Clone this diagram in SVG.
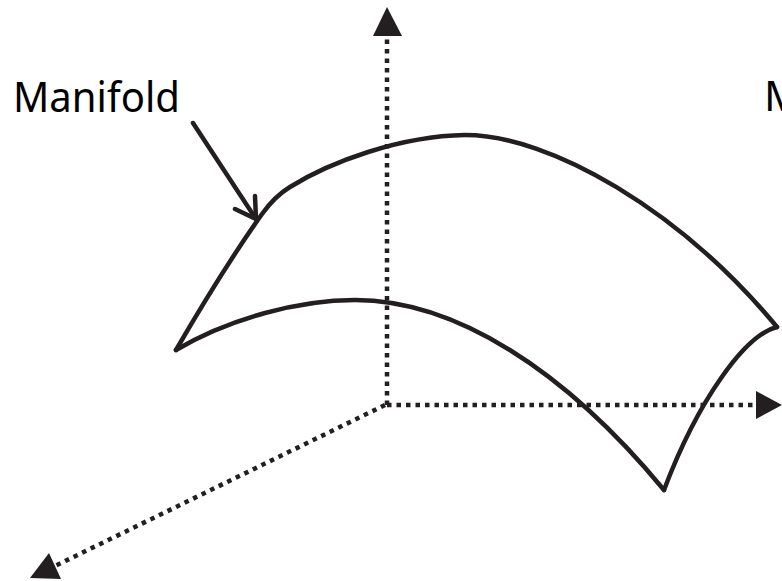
<svg xmlns="http://www.w3.org/2000/svg" width="782" height="581" viewBox="0 0 782 581">
<style>
.axis{fill:none;stroke:#231f20;stroke-width:4.5;stroke-dasharray:4.5 5;}
.head{fill:#231f20;stroke:none;}
.edge{fill:none;stroke:#231f20;stroke-width:4.5;stroke-linejoin:miter;stroke-linecap:round;}
.lbl{font-family:"Noto Sans","Open Sans",sans-serif;font-size:42px;fill:#000;}
</style>
<rect width="782" height="581" fill="#fff"/>
<g id="connectors">
<line class="axis" x1="387" y1="405" x2="387" y2="36"/>
<line class="axis" x1="387" y1="405" x2="756" y2="405"/>
<line class="axis" x1="385" y1="405" x2="55" y2="566"/>
<polygon class="head" points="373,36 402,36 387,7"/>
<polygon class="head" points="756,391 756,419 782,405"/>
<polygon class="head" points="49,553 61,579 30,578"/>
<g id="manifold-arrow" class="edge" stroke-linecap="butt">
<line x1="193" y1="123" x2="256" y2="219"/>
<polyline points="255,196 256,219 235,209" stroke-linejoin="miter"/>
</g>
</g>
<g id="surface">
<path class="edge" d="M176,350 C205,300 240,245 262,214 Q275,196 290,187 C330,162 400,136 465,135 C550,135 680,210 777,327"/>
<path class="edge" d="M777,327 C745,335 698,400 664,490"/>
<path class="edge" d="M176,350 C230,318 300,300 355,300 C455,300 565,370 664,490"/>
</g>
<g id="label-manifold">
<text class="lbl" x="13" y="112" textLength="167" lengthAdjust="spacingAndGlyphs">Manifold</text>
</g>
<g id="label-right">
<text class="lbl" x="764" y="111">M</text>
</g>
</svg>
